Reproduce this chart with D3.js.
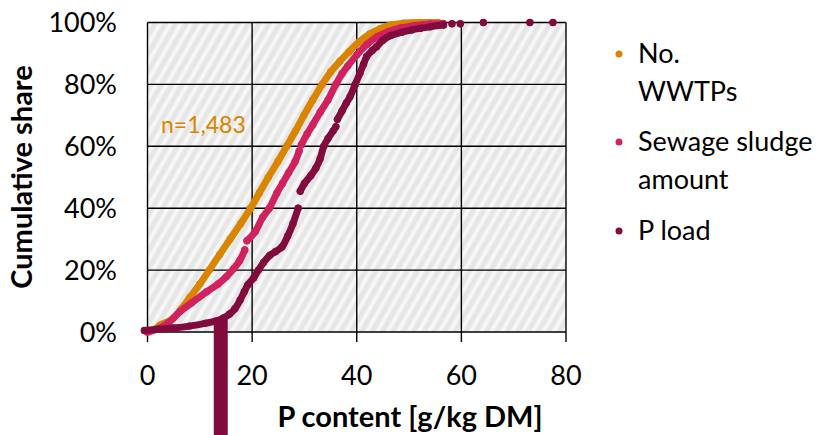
<!DOCTYPE html>
<html><head><meta charset="utf-8">
<script src="https://cdn.jsdelivr.net/npm/d3@7"></script>
<style>body{margin:0;background:#fff}svg{display:block;font-family:Lato,"Open Sans",sans-serif}</style>
</head><body><svg id="c" width="830" height="435"></svg>
<script>
const xTicks = [0, 20, 40, 60, 80];
const yTicks = [0, 20, 40, 60, 80, 100];
const seriesNames = ["No. WWTPs", "Sewage sludge amount", "P load"];
const legendLines = [["No.", "WWTPs"], ["Sewage sludge", "amount"], ["P load"]];
const colors = ["#d98500", "#d1215e", "#820b3d"];
// [P content g/kg DM, cumulative share %]; null = gap in the dotted curve
const wwtps = [[0,0],[1.5,1],[2.4,2.2],[4.9,4.4],[6.5,7.5],[8.1,11.2],[10,15.5],[11.8,20],[13.8,25],[15.8,30],[17.8,35],[19.7,40],[21.4,45],[23.1,50],[24.9,55],[26.6,60],[28.3,65],[29.9,70],[31.6,75],[33.4,80],[35,84],[36.8,87.5],[38.5,90.5],[40.5,93.8],[42.5,96.3],[44.5,98],[46.5,99.2],[49,99.8],[52,100],[55.5,100]];
const sludge = [[0,0],[2,1],[4,3],[6.2,6.6],[8.5,9.5],[11.3,13],[13.5,15.5],[15.1,17.9],[16.5,20.5],[17.6,23],[18.6,26.5],null,[19,29.5],[20.6,32.4],[22,37],[23.3,40],[24.7,44.8],[25.8,48],[27,51.5],[28.2,55],[29,58.5],null,[29.4,60.5],[30.5,64],[31.6,67],[33,71],[34.5,75],[36,80],[37.2,83.5],[38.3,86],[40,89.5],[42,93],[44,95.5],[46,97],[48.5,98.3],[51,99],[54,99.5],[56.5,99.7]];
const pload = [[-0.6,0.5],[2,0.9],[5,1.3],[8,1.9],[11,2.8],[13,3.5],[14.5,4.5],[15.7,5.8],[16.7,7.5],[17.7,10.3],[18.5,13],[19.2,15.3],[20.3,17.5],[21.2,20],[22.2,22.5],[23.4,24.8],[24.5,26],[25.7,27.5],[26.8,31],[27.8,35],[28.8,40],null,[29.2,45.5],[30,48],[31.2,50.5],[32.2,53],[33,56],[33.7,60],[34.5,62.5],[35.5,65],[36,66.3],null,[36.3,68.7],[37.2,71.5],[38,74],[38.7,76],[39.7,80],[40.6,83.6],[41.3,86.5],[41.9,89],[43,91],[43.8,92.2],[45,94.3],[46.5,95.8],[48.5,96.8],[50.5,97.6],[52.1,98.1],[54,98.6],[55.5,99],[56.6,99.2],null,[58.2,99.6],null,[59.8,99.6],null,[64.2,100],null,[73.1,100],null,[77.5,100]];
const series = [wwtps, sludge, pload];
const markerX = 14, markerShare = 4; // thick P-load marker bar
const nLabel = "n=1,483";

const svg = d3.select("#c");
const x = d3.scaleLinear().domain([0, 80]).range([147.5, 566]);
const y = d3.scaleLinear().domain([0, 100]).range([332, 22.5]);

// hatched background
const defs = svg.append("defs");
const pat = defs.append("pattern").attr("id","hatch").attr("patternUnits","userSpaceOnUse")
  .attr("width",9).attr("height",9).attr("patternTransform","rotate(30)");
pat.append("rect").attr("width",9).attr("height",9).attr("fill","#f7f7f7");
pat.append("rect").attr("x",0).attr("width",4).attr("height",9).attr("fill","#e6e6e6");
pat.append("rect").attr("x",4).attr("width",1).attr("height",9).attr("fill","#eeeeee");
pat.append("rect").attr("x",8).attr("width",1).attr("height",9).attr("fill","#eeeeee");
svg.append("rect").attr("x",x(0)).attr("y",y(100)).attr("width",x(80)-x(0)).attr("height",y(0)-y(100)).attr("fill","url(#hatch)");

// grid
const g = svg.append("g").attr("stroke","#000").attr("stroke-width",1.4);
yTicks.forEach(t => g.append("line").attr("x1",x(0)).attr("x2",x(80)).attr("y1",y(t)).attr("y2",y(t)));
xTicks.forEach(t => g.append("line").attr("x1",x(t)).attr("x2",x(t)).attr("y1",y(100)).attr("y2",y(0)+10));

// axis labels
svg.append("g").selectAll("text").data(yTicks).join("text")
  .attr("x",117).attr("y",d=>y(d)).attr("dy","0.36em").attr("text-anchor","end")
  .attr("font-size",27).attr("fill","#000").text(d=>d+"%");
svg.append("g").selectAll("text").data(xTicks).join("text")
  .attr("x",d=>x(d)).attr("y",385).attr("text-anchor","middle")
  .attr("font-size",27).attr("fill","#000").text(d=>d);
svg.append("text").attr("transform","translate(32,177) rotate(-90)").attr("text-anchor","middle")
  .attr("font-size",29).attr("font-weight","bold").text("Cumulative share");
svg.append("text").attr("x",410).attr("y",427).attr("text-anchor","middle")
  .attr("font-size",29).attr("font-weight","bold").text("P content [g/kg DM]");

// marker bar
svg.append("rect").attr("x",x(markerX)-7).attr("y",y(markerShare)).attr("width",14)
  .attr("height",435-y(markerShare)).attr("fill",colors[2]);

// series
const line = d3.line().defined(d=>d!==null).x(d=>x(d[0])).y(d=>y(d[1])).curve(d3.curveCatmullRom.alpha(0.5));
series.forEach((s,i)=>{
  svg.append("path").datum(s).attr("d",line).attr("fill","none").attr("stroke",colors[i])
    .attr("stroke-width",7).attr("stroke-linecap","round").attr("stroke-linejoin","round");
  svg.append("g").selectAll("circle").data(s.filter(d=>d)).join("circle")
    .attr("cx",d=>x(d[0])).attr("cy",d=>y(d[1])).attr("r",3.7).attr("fill",colors[i]);
});

svg.append("text").attr("x",161).attr("y",133).attr("font-size",23).attr("fill",colors[0]).text(nLabel);

// legend
const legY = [54, 142, 231];
legendLines.forEach((lines,i)=>{
  svg.append("circle").attr("cx",619).attr("cy",legY[i]).attr("r",3.5).attr("fill",colors[i]);
  lines.forEach((t,j)=>svg.append("text").attr("x",638).attr("y",legY[i]+9+j*38)
    .attr("font-size",27).attr("fill","#000").text(t));
});
</script></body></html>
